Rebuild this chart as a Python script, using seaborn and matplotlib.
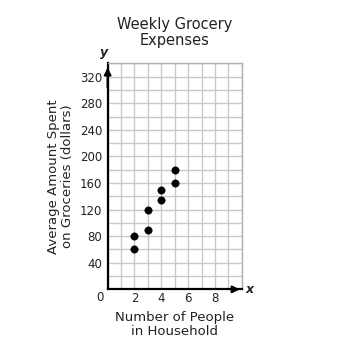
import numpy as np
import pandas as pd
import matplotlib
matplotlib.use("Agg")
import matplotlib.pyplot as plt
import seaborn as sns

sns.set_style("white")
plt.rcParams['font.family'] = ['DejaVu Sans']

# Data
people = [2, 2, 3, 3, 4, 4, 5, 5]
spent = [60, 80, 90, 120, 135, 150, 160, 180]
x_ticks = [0, 2, 4, 6, 8]
y_ticks = [40, 80, 120, 160, 200, 240, 280, 320]

df = pd.DataFrame({'people': people, 'spent': spent})

fig = plt.figure(figsize=(3.53, 3.52), dpi=100)
ax = fig.add_axes([0.305, 0.178, 0.380, 0.642])

# grid
for gx in range(0, 11):
    ax.axvline(gx, color='#c8c8c8', lw=1.0, zorder=0)
for gy in range(0, 341, 20):
    ax.axhline(gy, color='#c8c8c8', lw=1.0, zorder=0)

sns.scatterplot(data=df, x='people', y='spent', ax=ax, color='black', s=28,
                edgecolor='black', zorder=3, clip_on=False)

ax.set_xlim(0, 10)
ax.set_ylim(0, 340)
for side in ['top', 'right']:
    ax.spines[side].set_color('#b0b0b0')
    ax.spines[side].set_linewidth(1.0)
for side in ['left', 'bottom']:
    ax.spines[side].set_color('black')
    ax.spines[side].set_linewidth(1.6)

# axis arrows
ax.annotate('', xy=(10.05, 0), xytext=(9.0, 0), xycoords='data',
            arrowprops=dict(arrowstyle='-|>', color='black', lw=1.6,
                            mutation_scale=10), annotation_clip=False)
ax.annotate('', xy=(0, 338), xytext=(0, 300), xycoords='data',
            arrowprops=dict(arrowstyle='-|>', color='black', lw=1.6,
                            mutation_scale=10), annotation_clip=False)
ax.text(10.55, 0, 'x', fontsize=9, fontweight='bold', fontstyle='italic',
        ha='center', va='center')
ax.text(-0.3, 346, 'y', fontsize=9, fontweight='bold', fontstyle='italic',
        ha='center', va='bottom')

ax.set_xticks(x_ticks[1:])
ax.set_xticklabels([str(t) for t in x_ticks[1:]])
ax.set_yticks(y_ticks)
ax.set_yticklabels([str(t) for t in y_ticks])
ax.text(-0.3, -3, '0', fontsize=8.5, ha='right', va='top', color='#222222')
ax.tick_params(axis='y', length=0, labelsize=8.5, colors='#222222', pad=4)
ax.tick_params(axis='x', length=0, labelsize=8.5, colors='#222222', pad=2)

ax.set_xlabel('Number of People\nin Household', fontsize=9.5, color='#222222',
              labelpad=4, linespacing=1.15)
ax.set_ylabel('Average Amount Spent\non Groceries (dollars)', fontsize=9.5,
              color='#222222', labelpad=4, linespacing=1.15)
ax.set_title('Weekly Grocery\nExpenses', fontsize=10.5, color='#222222', pad=13,
             linespacing=1.15)

fig.savefig('out.png', dpi=100, facecolor='white')
